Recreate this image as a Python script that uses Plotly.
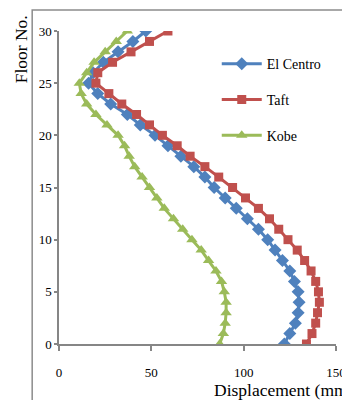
import plotly.graph_objects as go

floors = list(range(0, 31))
el_centro = [122, 125, 128, 129.5, 130, 129.5, 127.5, 125, 121, 117, 113, 108, 102, 96, 90, 84,
             79, 73, 66, 59, 52, 44, 37, 28, 21, 16, 18.5, 24, 32, 40, 47]
taft = [134, 137, 139, 140, 141, 140.5, 139, 136.5, 133, 129, 124, 119, 114, 108, 101, 94,
        86.5, 79, 71, 64, 56, 49, 42, 34, 27, 20, 21, 29, 39, 49, 59]
kobe = [87, 89, 90, 90.5, 90.5, 89.5, 88, 85, 81, 77, 72, 67, 62, 57, 53, 49,
        45, 41, 38, 35.5, 32, 26, 20, 15, 12, 11, 15, 19, 25, 31, 37]

series = [
    ("El Centro", el_centro, "#4F81BD", "diamond", 10),
    ("Taft", taft, "#C0504D", "square", 9),
    ("Kobe", kobe, "#9BBB59", "triangle-up", 10),
]

FONT = "Liberation Serif, DejaVu Serif, serif"

fig = go.Figure()
for i, (name, vals, color, sym, sz) in enumerate(series):
    fig.add_trace(go.Scatter(
        x=vals, y=floors, name=name, mode="lines+markers",
        line=dict(color=color, width=3),
        marker=dict(symbol=sym, size=sz, color=color),
        legendgroup=str(i),
    ))

axis_color = "#868686"
fig.update_layout(
    width=350, height=400,
    margin=dict(l=51, r=20, t=23, b=64),
    paper_bgcolor="white", plot_bgcolor="white",
    font=dict(family=FONT, size=13, color="black"),
    showlegend=True,
    legend=dict(x=0.5695, y=0.945, xanchor="left", yanchor="top",
                font=dict(family=FONT, size=14), tracegroupgap=14.5,
                bgcolor="rgba(0,0,0,0)", itemwidth=40),
    xaxis=dict(range=[0, 150], tickvals=[0, 50, 100, 150], showgrid=False, zeroline=False,
               showline=True, linecolor=axis_color, linewidth=1.5,
               ticks="outside", ticklen=5, tickcolor=axis_color, tickwidth=1.5,
               ticklabelstandoff=11, tickfont=dict(family=FONT, size=13)),
    yaxis=dict(range=[0, 30], tickvals=[0, 5, 10, 15, 20, 25, 30], showgrid=False, zeroline=False,
               showline=True, linecolor=axis_color, linewidth=1.5,
               ticks="outside", ticklen=3, tickcolor=axis_color, tickwidth=1.5,
               tickfont=dict(family=FONT, size=13)),
    shapes=[dict(type="rect", xref="paper", yref="paper", x0=-0.0968, x1=1.3, y0=-0.4, y1=1.067,
                 line=dict(color="#8c8c8c", width=1.5), fillcolor="rgba(0,0,0,0)", layer="below")],
    annotations=[
        dict(text="Floor No.", xref="paper", yref="paper", x=-0.136, y=1.0575, xanchor="center",
             yanchor="top", textangle=-90, showarrow=False, font=dict(family=FONT, size=17.5)),
        dict(text="Displacement (mm)", xref="paper", yref="paper", x=0.552, y=-0.147,
             xanchor="left", yanchor="middle", showarrow=False, font=dict(family=FONT, size=17.5)),
    ],
)

fig.write_html("out.html")
